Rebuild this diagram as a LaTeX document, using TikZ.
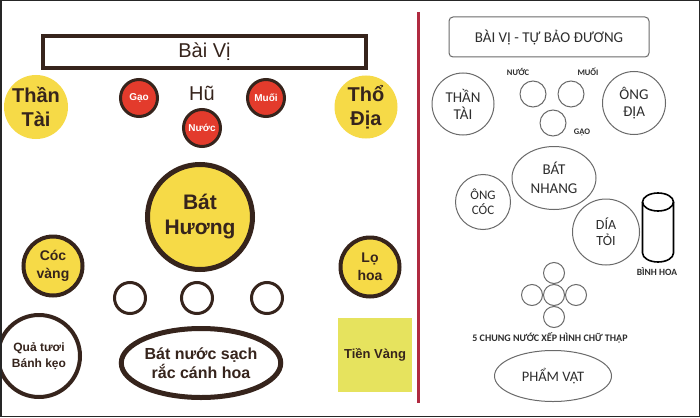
\documentclass[tikz,border=0pt]{standalone}
\usepackage{fontspec}
\setmainfont{Liberation Sans}
\newfontfamily\rfont{Carlito}
\usetikzlibrary{shapes.geometric}
\definecolor{ybg}{HTML}{F6DA47}
\definecolor{tien}{HTML}{E6E35E}
\definecolor{redc}{HTML}{E33B2C}
\definecolor{dbrown}{HTML}{36241C}
\definecolor{sep}{HTML}{B02A40}
\definecolor{rgray}{HTML}{6A6A6A}
\definecolor{rtext}{HTML}{2E2E2E}
\newcommand{\fsz}[2]{\fontsize{#1}{#2}\selectfont}
\begin{document}
\begin{tikzpicture}[x=1pt,y=-1pt,
  every node/.style={inner sep=0pt, align=center},
  ycirc/.style={circle, fill=ybg, text=dbrown, font=\bfseries},
  ycircb/.style={circle, fill=ybg, draw=dbrown, text=dbrown, font=\bfseries},
  rcirc/.style={circle, fill=redc, draw=dbrown, line width=3pt, minimum size=37pt, text=white, font=\bfseries\fsz{10}{12}},
  wcirc/.style={circle, fill=white, draw=dbrown, line width=3pt, minimum size=31pt},
  rshape/.style={draw=rgray, line width=1pt, text=rtext, font=\rfont},
  rsmall/.style={text=rtext, font=\rfont\bfseries\fsz{8.5}{10}},
  xcirc/.style={circle, draw=rgray, line width=1pt, minimum size=21pt}
]
\useasboundingbox (0,0) rectangle (700,417);
\fill[white] (0,0) rectangle (700,417);

% ---------------- left panel ----------------
\node[draw=dbrown, line width=4pt, fill=white, minimum width=323pt, minimum height=32pt,
      text=dbrown, font=\fsz{20}{22}] (baivi) at (204.5,52) {Bài Vị};

\node[ycirc, minimum size=64pt, font=\bfseries\fsz{20}{24}] (thantai) at (36,107) {Thần\\Tài};
\node[ycirc, minimum size=63pt, font=\bfseries\fsz{20}{24}] (thodia) at (366,107) {Thổ\\Địa};

\node[rcirc] (gao) at (139,98) {Gạo};
\node[rcirc] (muoi) at (266,98) {Muối};
\node[rcirc] (nuoc) at (202,128) {Nước};
\node[text=dbrown, font=\fsz{20}{22}] (hu) at (202,93) {Hũ};

\node[ycircb, line width=5pt, minimum size=105pt, font=\bfseries\fsz{21}{25}] (bathuong) at (200,217) {Bát\\Hương};

\node[ycircb, line width=4pt, minimum size=59pt, font=\bfseries\fsz{14}{18}] (cocvang) at (53,266) {Cóc\\vàng};
\node[ycircb, line width=4pt, minimum size=59pt, font=\bfseries\fsz{14}{18}] (lohoa) at (370,267) {Lọ\\hoa};

\node[wcirc] (c1) at (130,298) {};
\node[wcirc] (c2) at (197,298) {};
\node[wcirc] (c3) at (267,298) {};

\node[circle, draw=dbrown, line width=4pt, fill=white, minimum size=82pt, text=dbrown,
      font=\bfseries\fsz{12}{16}] (quatuoi) at (39,356) {Quả tươi\\Bánh kẹo};
\node[ellipse, draw=dbrown, line width=5pt, fill=white, minimum width=148pt, minimum height=69pt,
      text=dbrown, font=\bfseries\fsz{16}{19}] (batnuoc) at (201,363) {Bát nước sạch\\rắc cánh hoa};
\node[fill=tien, minimum width=74pt, minimum height=74pt, text=dbrown,
      font=\bfseries\fsz{13}{15}] (tienvang) at (375,355) {Tiền Vàng};

% separator
\draw[sep, line width=3pt] (418,12) -- (418,403);

% ---------------- right panel ----------------
\node[rshape, rounded corners=4pt, minimum width=200pt, minimum height=40pt, font=\rfont\fsz{15}{17}] (title) at (549,37) {BÀI VỊ - TỰ BẢO ĐƯƠNG};

\node[rshape, circle, minimum size=62pt, font=\rfont\fsz{15}{17}] (rthantai) at (463,104) {THẦN\\TÀI};
\node[rshape, circle, minimum size=63pt, font=\rfont\fsz{15}{17}] (ongdia) at (634,103) {ÔNG\\ĐỊA};

\node[rshape, circle, minimum size=26pt] (rnuoc) at (533,94) {};
\node[rshape, circle, minimum size=26pt] (rmuoi) at (571,94) {};
\node[rshape, circle, minimum size=26pt] (rgao) at (553,123) {};
\node[rsmall] (lnuoc) at (518,72) {NƯỚC};
\node[rsmall] (lmuoi) at (588,72) {MUỐI};
\node[rsmall] (lgao) at (582,132) {GẠO};

\node[rshape, ellipse, minimum width=84pt, minimum height=63pt, font=\rfont\fsz{15}{19}] (batnhang) at (554,178) {BÁT\\NHANG};
\node[rshape, circle, minimum size=55pt, font=\rfont\fsz{13}{15}] (ongcoc) at (483,202) {ÔNG\\CÓC};
\node[rshape, ellipse, minimum width=67pt, minimum height=66pt, font=\rfont\fsz{14}{16}] (diatoi) at (606,232) {DÍA\\TỎI};

% vase (cylinder)
\coordinate (binh) at (658,202);
\draw[black, line width=1.6pt, fill=white]
  (binh) ++(-15.5,0) -- ++(0,51) arc[start angle=180, end angle=360, x radius=15.5pt, y radius=9pt]
  -- ++(0,-51);
\draw[black, line width=1.6pt] (binh) ellipse[x radius=15.5pt, y radius=9pt];
\node[rsmall, font=\rfont\bfseries\fsz{9.5}{11}] (lbinh) at (657,272) {BÌNH HOA};

% cross of five cups
\node[xcirc] (xc) at (554,295) {};
\node[xcirc] (xt) at (554,273) {};
\node[xcirc] (xb) at (554,317) {};
\node[xcirc] (xl) at (532,295) {};
\node[xcirc] (xr) at (576,295) {};
\node[rsmall, font=\rfont\bfseries\fsz{10}{12}] (lcross) at (550,338) {5 CHUNG NƯỚC XẾP HÌNH CHỮ THẬP};

\node[rshape, ellipse, minimum width=117pt, minimum height=51pt, font=\rfont\fsz{14.5}{17}] (phamvat) at (553,376) {PHẨM VẬT};

% outer frame
\draw[black!85, line width=1.5pt] (0.75,0.75) rectangle (699.25,416.25);
\end{tikzpicture}
\end{document}
